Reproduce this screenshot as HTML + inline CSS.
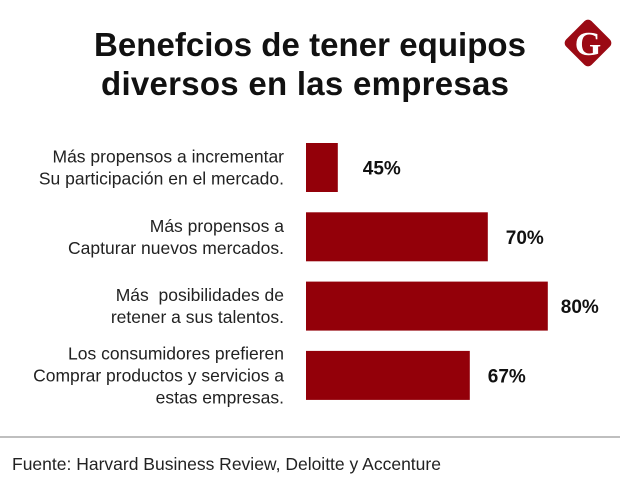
<!DOCTYPE html>
<html><head><meta charset="utf-8"><style>
body{margin:0;width:620px;height:497px;background:#fff;overflow:hidden;font-family:"Liberation Sans",sans-serif}
</style></head><body>
<svg width="620" height="497">
<text x="310" y="56" text-anchor="middle" font-size="33" font-weight="bold" fill="#111" textLength="432">Benefcios de tener equipos</text>
<text x="305" y="95" text-anchor="middle" font-size="33" font-weight="bold" fill="#111" textLength="408">diversos en las empresas</text>
<g>
<rect x="570" y="25" width="36" height="36" rx="5" fill="#9b0a14" transform="rotate(45 588 43)"/>
<text x="588" y="55" text-anchor="middle" font-size="34" font-weight="bold" font-family="Liberation Serif,serif" fill="#fff">G</text>
</g>
<g id="bars"></g>
<line x1="0" y1="437" x2="620" y2="437" stroke="#aaa" stroke-width="1.5"/>
<text x="12" y="470" font-size="17.5" fill="#222">Fuente: Harvard Business Review, Deloitte y Accenture</text>
</svg>
<script>
const categories=[["Más propensos a incrementar","Su participación en el mercado."],["Más propensos a","Capturar nuevos mercados."],["Más\u00a0 posibilidades de","retener a sus talentos."],["Los consumidores prefieren","Comprar productos y servicios a","estas empresas."]];
const values=[45,70,80,67];
const valueLabels=["45%","70%","80%","67%"];
const x0=306, xMin=39.7, pxPer=6;
function xs(v){return x0+(v-xMin)*pxPer;}
const bandTop=143, bandStep=69.3, barH=49;
function ys(i){return bandTop+i*bandStep;}
const ns="http://www.w3.org/2000/svg";
const g=document.getElementById('bars');
values.forEach((v,i)=>{
  const y=ys(i);
  const r=document.createElementNS(ns,'rect');
  r.setAttribute('x',x0);r.setAttribute('y',y);r.setAttribute('width',xs(v)-x0);r.setAttribute('height',barH);r.setAttribute('fill','#930009');
  
  
  g.appendChild(r);
  const t=document.createElementNS(ns,'text');
  t.setAttribute('x',xs(v)+(i==0?25:i==2?13:18));t.setAttribute('y',y+barH/2+7);t.setAttribute('font-size','19');t.setAttribute('font-weight','bold');t.setAttribute('fill','#111');
  t.textContent=valueLabels[i];
  
  
  g.appendChild(t);
  const lines=categories[i];
  const cy=y+barH/2, lh=22;
  lines.forEach((s,j)=>{
    const l=document.createElementNS(ns,'text');
    l.setAttribute('x',284);l.setAttribute('y',cy+(j-(lines.length-1)/2)*lh+6);l.setAttribute('text-anchor','end');l.setAttribute('font-size','17.5');l.setAttribute('fill','#222');
    l.textContent=s;
    
    
    g.appendChild(l);
  });
});
</script>
</body></html>
